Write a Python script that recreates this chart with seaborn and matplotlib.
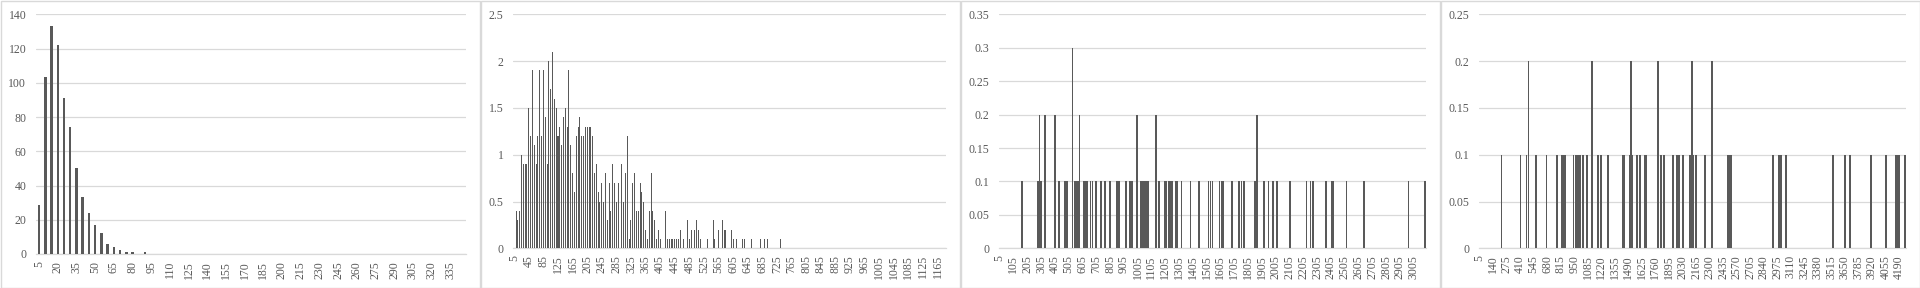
import numpy as np
import pandas as pd
import seaborn as sns
import matplotlib.pyplot as plt
from matplotlib.patches import Rectangle
from matplotlib.ticker import FuncFormatter

# ---- data (bin -> value, bins without a bar are 0) ----
p1_bins = [5, 10, 15, 20, 25, 30, 35, 40, 45, 50, 55, 60, 65, 70, 75, 80, 90]
p1_vals = [28.5, 103.5, 133, 122, 91, 74, 50.5, 33, 24, 17, 12.5, 6, 4, 2.5, 1, 1, 1]

p2_idx = [1, 2, 3, 4, 5, 6, 7, 8, 9, 10, 11, 12, 13, 14, 15, 16, 17, 18, 19, 20,
          21, 22, 23, 24, 25, 26, 27, 28, 29, 30, 31, 32, 33, 34, 35, 36, 37, 38, 39, 40,
          41, 42, 43, 44, 45, 46, 47, 48, 49, 50, 51, 52, 53, 54, 55, 56, 57, 59, 60, 61,
          62, 63, 64, 65, 66, 67, 68, 69, 70, 71, 72, 73, 74, 75, 76, 77, 78, 79, 80, 83,
          84, 85, 86, 87, 88, 89, 90, 91, 93, 95, 96, 97, 99, 100, 101, 102, 106, 109, 110, 112,
          114, 115, 116, 119, 120, 122, 125, 126, 130, 135, 137, 139, 146]
p2_vals = [0.4, 0.3, 0.4, 1.0, 0.9, 0.9, 0.9, 1.5, 1.2, 1.9, 1.1, 0.9, 1.2, 1.9, 1.2, 1.9, 1.4, 0.9, 2.0, 1.7,
           2.1, 1.6, 1.5, 1.2, 1.3, 1.1, 1.4, 1.5, 1.3, 1.9, 1.1, 0.8, 0.6, 1.2, 1.3, 1.4, 1.2, 1.2, 1.3, 1.3,
           1.3, 1.3, 1.2, 0.8, 0.9, 0.6, 0.5, 0.7, 0.5, 0.8, 0.3, 0.7, 0.4, 0.9, 0.7, 0.5, 0.7, 0.9, 0.5, 0.8,
           1.2, 0.1, 0.3, 0.7, 0.8, 0.4, 0.4, 0.7, 0.6, 0.5, 0.2, 0.1, 0.4, 0.8, 0.4, 0.3, 0.1, 0.2, 0.1, 0.4,
           0.1, 0.1, 0.1, 0.1, 0.1, 0.1, 0.1, 0.2, 0.1, 0.3, 0.1, 0.2, 0.2, 0.3, 0.2, 0.1, 0.1, 0.3, 0.1, 0.2,
           0.3, 0.2, 0.2, 0.2, 0.1, 0.1, 0.1, 0.1, 0.1, 0.1, 0.1, 0.1, 0.1]
p2_bins = [5 + 5 * i for i in p2_idx]

p3_bins = [165, 280, 290, 300, 305, 330, 405, 430, 475, 490, 530, 545, 555, 570, 575, 580,
           610, 620, 635, 660, 675, 700, 735, 765, 800, 805, 850, 865, 915, 945, 950, 960,
           995, 1025, 1040, 1055, 1070, 1075, 1135, 1155, 1160, 1200, 1210, 1225, 1235, 1250,
           1280, 1285, 1290, 1320, 1385, 1445, 1515, 1530, 1545, 1595, 1610, 1620, 1685, 1735,
           1740, 1755, 1770, 1850, 1865, 1915, 1920, 1950, 1980, 2010, 2105, 2225, 2255, 2270,
           2365, 2410, 2415, 2515, 2640, 2965, 3085]
p3_vals = [0.1, 0.1, 0.2, 0.1, 0.1, 0.2, 0.2, 0.1, 0.1, 0.1, 0.3, 0.1, 0.1, 0.1, 0.1, 0.2,
           0.1, 0.1, 0.1, 0.1, 0.1, 0.1, 0.1, 0.1, 0.1, 0.1, 0.1, 0.1, 0.1, 0.1, 0.1, 0.1,
           0.2, 0.1, 0.1, 0.1, 0.1, 0.1, 0.2, 0.1, 0.1, 0.1, 0.1, 0.1, 0.1, 0.1,
           0.1, 0.1, 0.1, 0.1, 0.1, 0.1, 0.1, 0.1, 0.1, 0.1, 0.1, 0.1, 0.1, 0.1,
           0.1, 0.1, 0.1, 0.1, 0.2, 0.1, 0.1, 0.1, 0.1, 0.1, 0.1, 0.1, 0.1, 0.1,
           0.1, 0.1, 0.1, 0.1, 0.1, 0.1, 0.1]

p4_bins = [220, 410, 470, 490, 560, 570, 670, 770, 780, 820, 825, 830, 835, 840, 845, 850, 855,
           940, 960, 980, 1000, 1030, 1070, 1120, 1180, 1210, 1280, 1430, 1440,
           1500, 1505, 1510, 1515, 1520, 1525, 1570, 1600, 1650, 1660, 1780, 1810, 1840,
           1930, 1970, 1990, 2030, 2100, 2110, 2120, 2130, 2160, 2250, 2320, 2480, 2500, 2510,
           2930, 2990, 3010, 3060, 3525, 3645, 3695, 3905, 4055, 4155, 4175, 4185, 4245]
p4_vals = [0.1, 0.1, 0.1, 0.2, 0.1, 0.1, 0.1, 0.1, 0.1, 0.1, 0.1, 0.1, 0.1, 0.1, 0.1, 0.1, 0.1,
           0.1, 0.1, 0.1, 0.1, 0.1, 0.1, 0.2, 0.1, 0.1, 0.1, 0.1, 0.1,
           0.1, 0.1, 0.2, 0.1, 0.1, 0.1, 0.1, 0.1, 0.1, 0.1, 0.2, 0.1, 0.1,
           0.1, 0.1, 0.1, 0.1, 0.1, 0.1, 0.2, 0.1, 0.1, 0.1, 0.2, 0.1, 0.1, 0.1,
           0.1, 0.1, 0.1, 0.1, 0.1, 0.1, 0.1, 0.1, 0.1, 0.1, 0.1, 0.1, 0.1]

# category axis ranges (bin width 5) and label steps
p1_last, p2_last, p3_last, p4_last = 345, 1185, 3090, 4255

panels = [
    dict(bins=p1_bins, vals=p1_vals, last=p1_last, step=3, ymax=140, ystep=20, width=0.4, lw=0,
         rect=[36 / 1920, 34 / 288, 429.7 / 1920, 239.7 / 288]),
    dict(bins=p2_bins, vals=p2_vals, last=p2_last, step=8, ymax=2.5, ystep=0.5, width=0.55, lw=0,
         rect=[513.3 / 1920, 39.7 / 288, 432.4 / 1920, 234 / 288]),
    dict(bins=p3_bins, vals=p3_vals, last=p3_last, step=20, ymax=0.35, ystep=0.05, width=1.0, lw=0.5,
         rect=[999.3 / 1920, 39.7 / 288, 426.4 / 1920, 234 / 288]),
    dict(bins=p4_bins, vals=p4_vals, last=p4_last, step=27, ymax=0.25, ystep=0.05, width=1.0, lw=0.5,
         rect=[1479.3 / 1920, 39.7 / 288, 426.4 / 1920, 234 / 288]),
]

sns.set_style('white')
plt.rcParams['font.family'] = ['Liberation Serif', 'DejaVu Serif']

bar_color = '#595959'
grid_color = '#d9d9d9'
text_color = '#595959'

fig = plt.figure(figsize=(19.2, 2.88), dpi=100)

for i, p in enumerate(panels):
    # chart-area border
    fig.patches.append(Rectangle((i * 480 / 1920 + 0.5 / 1920, 0.5 / 288), 479 / 1920, 287 / 288,
                                 transform=fig.transFigure, fill=False,
                                 edgecolor=grid_color, linewidth=1))

    cats = list(range(5, p['last'] + 1, 5))
    s = pd.Series(p['vals'], index=p['bins']).reindex(cats, fill_value=0)
    df = pd.DataFrame({'bin': [str(c) for c in cats], 'value': s.values})

    ax = fig.add_axes(p['rect'])
    sns.barplot(data=df, x='bin', y='value', order=df['bin'], ax=ax, color=bar_color,
                saturation=1, width=p['width'], errorbar=None, zorder=3, linewidth=0)
    # very thin bars: draw them as crisp 1px columns like the original
    if i > 0:
        for patch in ax.patches:
            patch.set_antialiased(False)
            if patch.get_height() > 0 and p['lw'] > 0:
                patch.set_edgecolor(bar_color)
                patch.set_linewidth(p['lw'])

    ax.set_xlim(-0.5, len(cats) - 0.5)
    ax.set_ylim(0, p['ymax'])
    yt = np.round(np.arange(0, p['ymax'] + p['ystep'] / 2, p['ystep']), 2)
    ax.set_yticks(yt)
    ax.yaxis.set_major_formatter(FuncFormatter(lambda v, pos: f'{round(v, 2):g}'))
    ax.set_xticks(range(0, len(cats), p['step']))
    ax.set_xticklabels([str(c) for c in cats[::p['step']]], rotation=90)

    ax.grid(axis='y', color=grid_color, linewidth=0.9, zorder=0)
    ax.set_axisbelow(True)
    for side in ['top', 'right', 'left']:
        ax.spines[side].set_visible(False)
    ax.spines['bottom'].set_color(grid_color)
    ax.spines['bottom'].set_linewidth(0.9)
    ax.tick_params(axis='both', length=0, labelsize=8.5, labelcolor=text_color)
    ax.tick_params(axis='y', pad=7)
    ax.tick_params(axis='x', pad=5)
    ax.set_xlabel('')
    ax.set_ylabel('')

fig.savefig('out.png', dpi=100, facecolor='white')
